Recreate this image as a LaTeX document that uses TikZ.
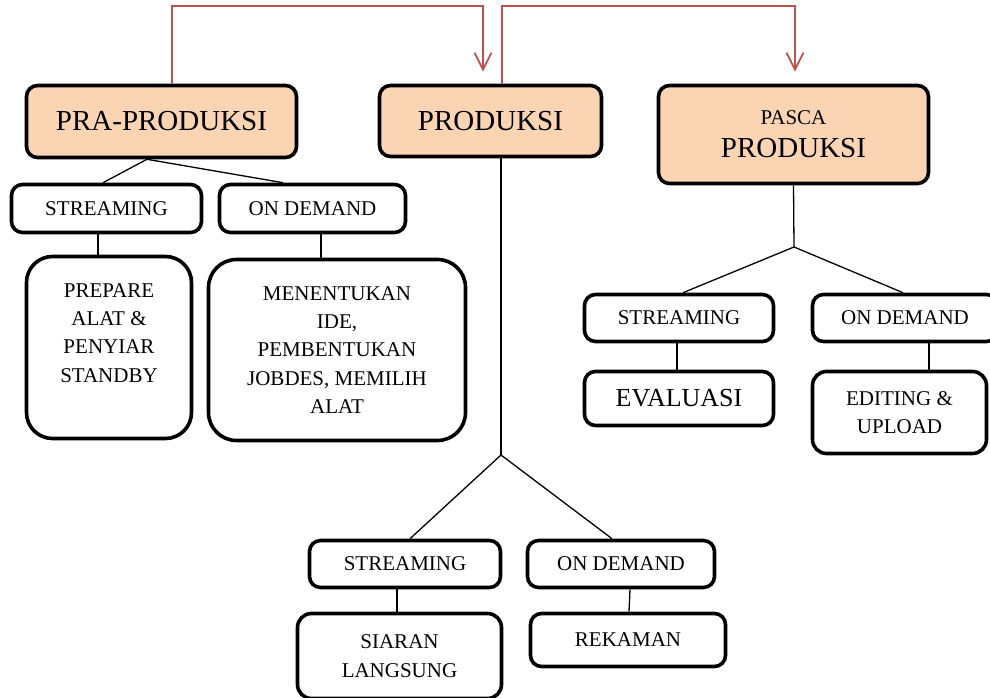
\documentclass[tikz,border=0pt]{standalone}
\usepackage{fontspec}
\setmainfont{Liberation Serif}
\usetikzlibrary{calc,arrows.meta}
\definecolor{peach}{HTML}{FBD4B4}
\definecolor{flowred}{HTML}{C0504D}
\tikzset{
  box/.style={draw=black, line width=3.6pt, rounded corners=11pt, inner sep=0pt, align=center},
  mainbox/.style={box, fill=peach, font=\fontsize{29}{32}\selectfont},
  smallbox/.style={box, fill=white, font=\fontsize{21}{28.3}\selectfont},
  conn/.style={draw=black, line width=1.3pt},
  flow/.style={draw=flowred, line width=1.8pt, -{Straight Barb[length=17pt,width=17pt,line width=1.8pt]}},
  bodytext/.style={inner sep=0pt, align=center, font=\fontsize{21}{28.3}\selectfont}
}
\begin{document}
\begin{tikzpicture}[x=1pt,y=-1pt]
\useasboundingbox (0,0) rectangle (990,698);
\clip (0,0) rectangle (990,698);

% top-level phases
\node[mainbox, minimum width=270pt, minimum height=72pt] (pra) at (161.5,121.5) {PRA-PRODUKSI};
\node[mainbox, minimum width=222pt, minimum height=71pt] (prod) at (490.5,121) {PRODUKSI};
\node[mainbox, minimum width=270pt, minimum height=98pt] (pasca) at (793.5,134.5)
  {{\fontsize{21}{24}\selectfont PASCA}\\[1pt]PRODUKSI};

% flow between the phases
\draw[flow] ($(pra.north)+(10.5,0)$) -- ++(0,-77.5) -| ($(prod.north)+(-7.5,-12)$);
\draw[flow] ($(prod.north)+(11.5,0)$) -- ++(0,-77.5) -| ($(pasca.north)+(1.5,-12)$);

% pra-produksi branch
\node[smallbox, minimum width=190pt, minimum height=48pt] (s1) at (106.5,208.5) {STREAMING};
\node[smallbox, minimum width=186pt, minimum height=48pt] (o1) at (312.5,208.5) {ON DEMAND};
\node[smallbox, rounded corners=26pt, minimum width=165pt, minimum height=182pt] (prep) at (109,347.5) {};
\node[bodytext, anchor=north] (preptext) at ($(prep.north)+(0,28.5)$)
  {PREPARE\\ALAT \&\\PENYIAR\\STANDBY};
\node[smallbox, rounded corners=28pt, minimum width=257pt, minimum height=181pt] (ide) at (337,350)
  {MENENTUKAN\\IDE,\\PEMBENTUKAN\\JOBDES, MEMILIH\\ALAT};

\draw[conn] ($(pra.south)+(-14.5,0)$) -- ($(s1.north)+(-3.5,0)$);
\draw[conn] ($(pra.south)+(-14.5,0)$) -- ($(o1.north)+(-29.5,0)$);
\draw[conn] ($(s1.south)+(-8.5,0)$) -- ($(prep.north)+(-11,0)$);
\draw[conn] ($(o1.south)+(8.5,0)$) -- ($(ide.north)+(-16,0)$);

% produksi branch
\coordinate (pj) at (501,455);
\node[smallbox, minimum width=191pt, minimum height=47pt] (s2) at (405,564) {STREAMING};
\node[smallbox, minimum width=187pt, minimum height=47pt] (o2) at (621,564) {ON DEMAND};
\node[smallbox, rounded corners=14pt, minimum width=204pt, minimum height=85pt] (siaran) at (399.5,656)
  {SIARAN\\LANGSUNG};
\node[smallbox, minimum width=195pt, minimum height=53pt] (rekaman) at (628,640) {REKAMAN};

\draw[conn] ($(prod.south)+(10.5,0)$) -- (pj);
\draw[conn] (pj) -- ($(s2.north)+(5,0)$);
\draw[conn] (pj) -- ($(o2.north)+(-9,0)$);
\draw[conn] ($(s2.south)+(-8,0)$) -- ($(siaran.north)+(-2.5,0)$);
\draw[conn] ($(o2.south)+(9,0)$) -- ($(rekaman.north)+(1,0)$);

% pasca produksi branch
\coordinate (qj) at (794,247);
\node[smallbox, minimum width=189pt, minimum height=47pt] (s3) at (679,318) {STREAMING};
\node[smallbox, minimum width=185pt, minimum height=47pt] (o3) at (905,318) {ON DEMAND};
\node[smallbox, minimum width=189pt, minimum height=54pt, font=\fontsize{26}{30}\selectfont] (eval) at (679,398.5) {EVALUASI};
\node[smallbox, rounded corners=14pt, minimum width=174pt, minimum height=82pt] (edit) at (899.5,412.5)
  {EDITING \&\\UPLOAD};

\draw[conn] (pasca.south) -- (qj);
\draw[conn] (qj) -- ($(s3.north)+(4,0)$);
\draw[conn] (qj) -- ($(o3.north)+(-2,0)$);
\draw[conn] ($(s3.south)+(-2,0)$) -- ($(eval.north)+(-2,0)$);
\draw[conn] ($(o3.south)+(24,0)$) -- ($(edit.north)+(29.5,0)$);
\end{tikzpicture}
\end{document}
